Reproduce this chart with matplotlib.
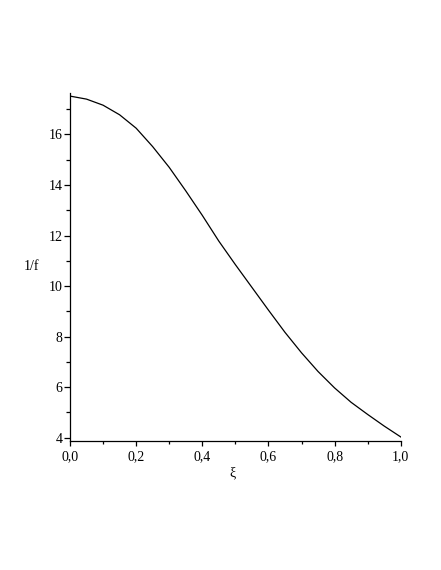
import matplotlib
matplotlib.use("Agg")
import matplotlib.pyplot as plt
from matplotlib.ticker import MultipleLocator, FuncFormatter

plt.rcParams['font.family'] = ['Liberation Serif', 'DejaVu Serif']

xi = [0.0, 0.05, 0.10, 0.15, 0.20, 0.25, 0.30, 0.35, 0.40, 0.45, 0.50,
      0.55, 0.60, 0.65, 0.70, 0.75, 0.80, 0.85, 0.90, 0.95, 1.0]
inv_f = [17.52, 17.40, 17.16, 16.78, 16.25, 15.52, 14.70, 13.77, 12.80, 11.78, 10.85,
         9.95, 9.05, 8.17, 7.36, 6.62, 5.97, 5.40, 4.92, 4.46, 4.03]

x_label = "ξ"
y_label = "1/f"

fig = plt.figure(figsize=(4.41, 5.70), dpi=100)
ax = fig.add_axes([0.1587, 0.2268, 0.750, 0.6095])
ax.plot(xi, inv_f, color='black', linewidth=0.9)

ax.set_xlim(0.0, 1.0)
ax.set_ylim(3.88, 17.63)
for s in ['top', 'right']:
    ax.spines[s].set_visible(False)
for s in ['left', 'bottom']:
    ax.spines[s].set_linewidth(0.9)

ax.xaxis.set_major_locator(MultipleLocator(0.2))
ax.xaxis.set_minor_locator(MultipleLocator(0.1))
ax.yaxis.set_major_locator(MultipleLocator(2))
ax.yaxis.set_minor_locator(MultipleLocator(1))
ax.xaxis.set_major_formatter(FuncFormatter(lambda v, p: f"{v:.1f}".replace('.', ',')))
ax.yaxis.set_major_formatter(FuncFormatter(lambda v, p: f"{v:.0f}"))

ax.tick_params(axis='x', which='major', length=3.5, width=0.9, labelsize=10, pad=3)
ax.tick_params(axis='x', which='minor', length=2.2, width=0.9)
ax.tick_params(axis='y', which='major', length=4.5, width=0.9, labelsize=10, pad=1)
ax.tick_params(axis='y', which='minor', length=2.8, width=0.9)

fig.text(31/441, 1 - 266/570, y_label, fontsize=10, ha='center', va='center')
fig.text(233/441, 1 - 473/570, x_label, fontsize=10, ha='center', va='center')

fig.savefig("out.png", dpi=100)
